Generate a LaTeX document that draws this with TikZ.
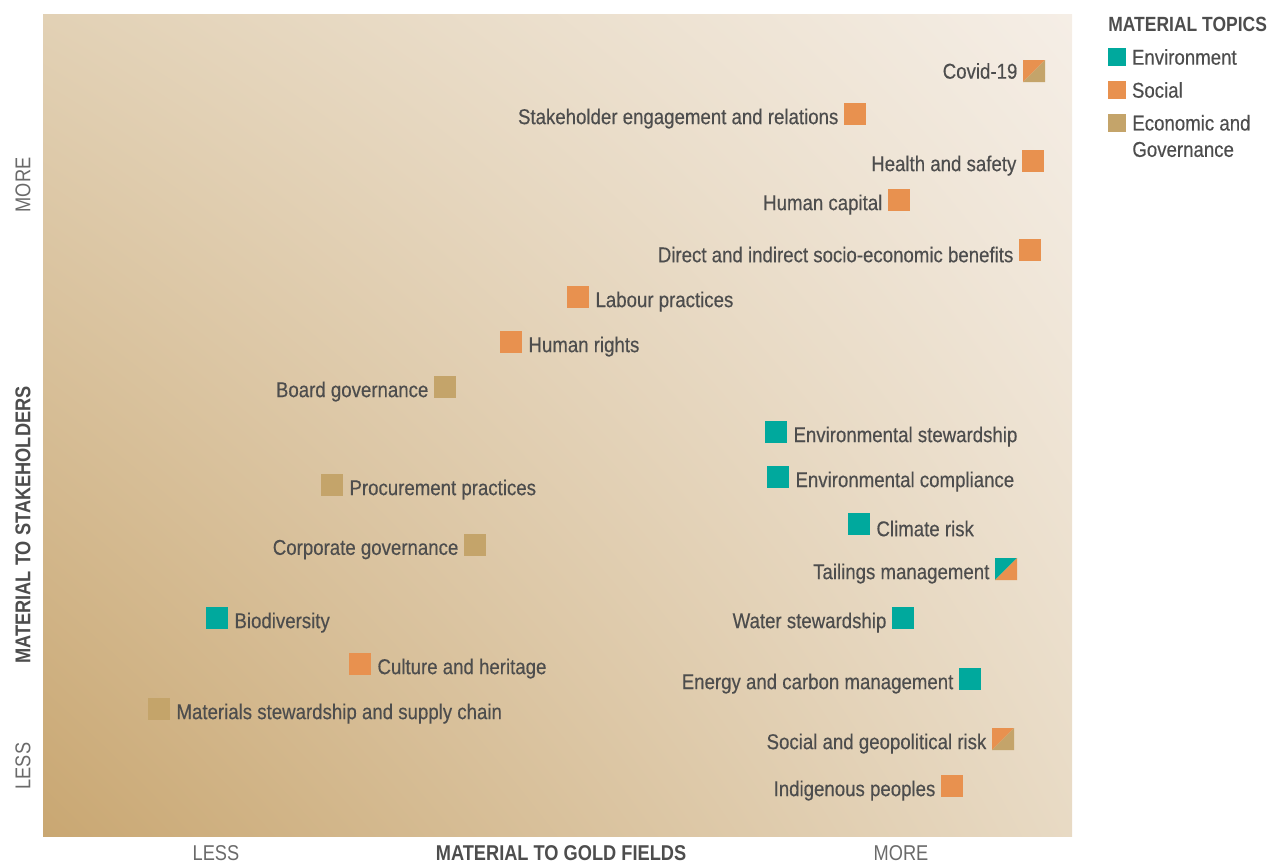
\documentclass[tikz,border=0pt]{standalone}
\usepackage{fontspec}
\setmainfont{Liberation Sans}[FakeStretch=0.85]
\newfontfamily\topicfont{Liberation Sans}[FakeStretch=0.87, FakeBold=0.35]
\usetikzlibrary{positioning,shadings}

\definecolor{envcol}{HTML}{00A99D}
\definecolor{soccol}{HTML}{E8914F}
\definecolor{govcol}{HTML}{C4A46A}
\definecolor{txtcol}{HTML}{4D4D4D}
\definecolor{axcol}{HTML}{6A6A6A}
\definecolor{bgll}{RGB}{201,167,114}
\definecolor{bgul}{RGB}{226,209,181}
\definecolor{bgur}{RGB}{245,238,230}
\definecolor{bglr}{RGB}{232,218,196}

\tikzset{
  topic/.style={minimum size=0.44cm, inner sep=0pt, outer sep=0pt},
  env/.style={topic, fill=envcol},
  soc/.style={topic, fill=soccol},
  gov/.style={topic, fill=govcol},
  split/.style 2 args={topic, path picture={
      \fill[#1] (path picture bounding box.north west) -- (path picture bounding box.north east)
        -- (path picture bounding box.south west) -- cycle;
      \fill[#2] (path picture bounding box.south east) -- (path picture bounding box.north east)
        -- (path picture bounding box.south west) -- cycle;}},
  keylbl/.style={text=txtcol, inner sep=0pt, font=\fontsize{12.2}{14}\topicfont},
  lbl/.style={keylbl, yshift=-2.6pt},
  axlbl/.style={text=txtcol, inner sep=0pt, font=\fontsize{12.2}{14}\selectfont\bfseries},
  lessmore/.style={text=axcol, inner sep=0pt, font=\fontsize{12.2}{14}\selectfont},
  keybox/.style={minimum size=0.36cm, inner sep=0pt}
}

\begin{document}
\begin{tikzpicture}[x=0.02cm, y=-0.02cm]
        \useasboundingbox (0,0) rectangle (1271,863);
        \shade[lower left=bgll, upper left=bgul, upper right=bgur, lower right=bglr]
               (43,14) rectangle (1072,836);

        % axes
        \node[axlbl, rotate=90] (yaxis) at (23,525) {MATERIAL TO STAKEHOLDERS};
        \node[lessmore, rotate=90] (ymore) at (23,185) {MORE};
        \node[lessmore, rotate=90] (yless) at (23,766) {LESS};
        \node[axlbl] (xaxis) at (561,853) {MATERIAL TO GOLD FIELDS};
        \node[lessmore] (xless) at (216,853) {LESS};
        \node[lessmore] (xmore) at (901,853) {MORE};

        % topics
        \node[split={soccol}{govcol}] (covid) at (1034,71) {};
        \node[keylbl, left=3pt of covid] {Covid-19};
        \node[soc] (stake) at (855,114) {};
        \node[lbl, left=3pt of stake] {Stakeholder engagement and relations};
        \node[soc] (health) at (1033,161) {};
        \node[lbl, left=3pt of health] {Health and safety};
        \node[soc] (capital) at (899,200) {};
        \node[lbl, left=3pt of capital] {Human capital};
        \node[soc] (benefits) at (1030,250) {};
        \node[lbl, left=3pt of benefits] {Direct and indirect socio-economic benefits};
        \node[soc] (labour) at (578,297) {};
        \node[lbl, right=3.5pt of labour] {Labour practices};
        \node[soc] (rights) at (511,342) {};
        \node[lbl, right=3.5pt of rights] {Human rights};
        \node[gov] (board) at (445,387) {};
        \node[lbl, left=3pt of board] {Board governance};
        \node[env] (envstew) at (776,432) {};
        \node[lbl, right=3.5pt of envstew] {Environmental stewardship};
        \node[env] (envcomp) at (778,477) {};
        \node[lbl, right=3.5pt of envcomp] {Environmental compliance};
        \node[gov] (procure) at (332,485) {};
        \node[lbl, right=3.5pt of procure] {Procurement practices};
        \node[env] (climate) at (859,524) {};
        \node[lbl, right=3.5pt of climate] {Climate risk};
        \node[gov] (corpgov) at (475,545) {};
        \node[lbl, left=3pt of corpgov] {Corporate governance};
        \node[split={envcol}{soccol}] (tailings) at (1006,569) {};
        \node[lbl, left=3pt of tailings] {Tailings management};
        \node[env] (biodiv) at (217,618) {};
        \node[lbl, right=3.5pt of biodiv] {Biodiversity};
        \node[env] (water) at (903,618) {};
        \node[lbl, left=3pt of water] {Water stewardship};
        \node[soc] (culture) at (360,664) {};
        \node[lbl, right=3.5pt of culture] {Culture and heritage};
        \node[env] (energy) at (970,679) {};
        \node[lbl, left=3pt of energy] {Energy and carbon management};
        \node[gov] (materials) at (159,709) {};
        \node[lbl, right=3.5pt of materials] {Materials stewardship and supply chain};
        \node[split={soccol}{govcol}] (geopol) at (1003,739) {};
        \node[lbl, left=3pt of geopol] {Social and geopolitical risk};
        \node[soc] (indigenous) at (952,786) {};
        \node[lbl, left=3pt of indigenous] {Indigenous peoples};

        % legend
        \node[axlbl, anchor=west, font=\fontsize{11.7}{14}\selectfont\bfseries] (keytitle) at (1108,24) {MATERIAL TOPICS};
        \node[keybox, fill=envcol] (keyenv) at (1117,57) {};
        \node[keylbl, right=3pt of keyenv] {Environment};
        \node[keybox, fill=soccol] (keysoc) at (1117,90) {};
        \node[keylbl, right=3pt of keysoc] {Social};
        \node[keybox, fill=govcol] (keygov) at (1117,123) {};
        \node[keylbl, anchor=west, align=left] at (1132,136) {Economic and\\[1pt]Governance};
\end{tikzpicture}
\end{document}
